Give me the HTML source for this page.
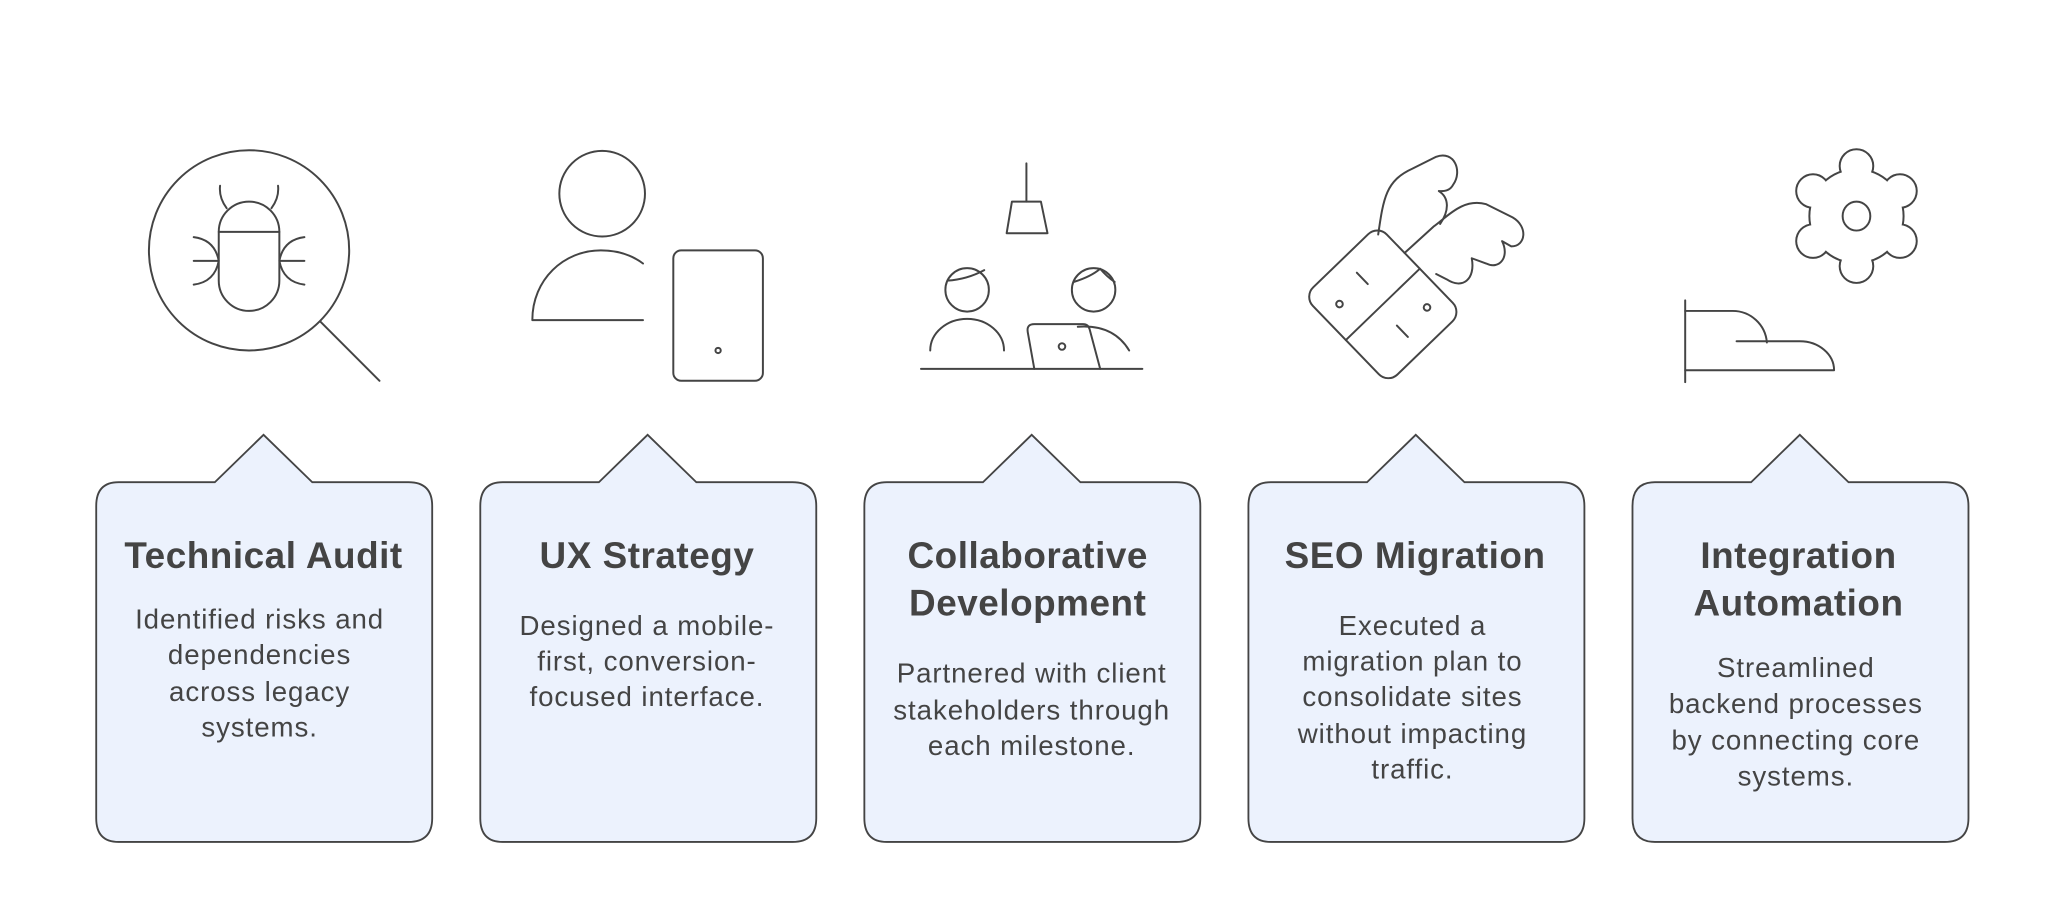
<!DOCTYPE html>
<html><head><meta charset="utf-8"><style>
html,body{margin:0;padding:0;background:#fff;}
svg{display:block;}
text{font-family:"Liberation Sans",sans-serif;fill:#444;text-anchor:middle;}
.t{font-size:28px;font-weight:bold;letter-spacing:0.4px;}
.b{font-size:21px;letter-spacing:0.7px;}
.s{fill:none;stroke:#444;stroke-width:1.5;stroke-linecap:round;stroke-linejoin:round;}
.c{fill:#ECF2FD;stroke:#444;stroke-width:1.4;}
</style></head><body>
<svg width="2066" height="902" viewBox="0 0 1568 684.6" xmlns="http://www.w3.org/2000/svg">
<defs>
<path id="card" d="M90 366 H163 L200 330 L237 366 H310 Q328 366 328 384 V621 Q328 639 310 639 H90 Q73 639 73 621 V384 Q73 366 90 366 Z"/>
</defs>
<use href="#card" class="c"/>
<use href="#card" class="c" x="291.5"/>
<use href="#card" class="c" x="583"/>
<use href="#card" class="c" x="874.5"/>
<use href="#card" class="c" x="1166"/>

<text class="t" x="200" y="431">Technical Audit</text>
<text class="b" x="197" y="477">Identified risks and</text>
<text class="b" x="197" y="504">dependencies</text>
<text class="b" x="197" y="532">across legacy</text>
<text class="b" x="197" y="559">systems.</text>

<text class="t" x="491" y="431">UX Strategy</text>
<text class="b" x="491" y="482">Designed a mobile-</text>
<text class="b" x="491" y="509">first, conversion-</text>
<text class="b" x="491" y="536">focused interface.</text>

<text class="t" x="780" y="431">Collaborative</text>
<text class="t" x="780" y="467">Development</text>
<text class="b" x="783" y="518">Partnered with client</text>
<text class="b" x="783" y="546">stakeholders through</text>
<text class="b" x="783" y="573">each milestone.</text>

<text class="t" x="1074" y="431">SEO Migration</text>
<text class="b" x="1072" y="482">Executed a</text>
<text class="b" x="1072" y="509">migration plan to</text>
<text class="b" x="1072" y="536">consolidate sites</text>
<text class="b" x="1072" y="564">without impacting</text>
<text class="b" x="1072" y="591">traffic.</text>

<text class="t" x="1365" y="431">Integration</text>
<text class="t" x="1365" y="467">Automation</text>
<text class="b" x="1363" y="514">Streamlined</text>
<text class="b" x="1363" y="541">backend processes</text>
<text class="b" x="1363" y="569">by connecting core</text>
<text class="b" x="1363" y="596">systems.</text>

<!-- icon 1 -->
<g class="s">
<circle cx="189" cy="190" r="76"/>
<line x1="243" y1="244" x2="288" y2="289"/>
<path d="M166 176 V213 A23 23 0 0 0 212 213 V176 A23 23 0 0 0 166 176 Z"/>
<line x1="166" y1="176" x2="212" y2="176"/>
<path d="M172 158 Q166 150 167 141 M206 158 Q212 150 211 141"/>
<path d="M147 180 Q163 182 166 198 Q163 214 147 216 M147 198 H166"/>
<path d="M231 180 Q215 182 212 198 Q215 214 231 216 M231 198 H212"/>
</g>
<!-- icon 2 -->
<g class="s">
<circle cx="457" cy="147" r="32.5"/>
<path d="M488 243 H404 C404 212 428 190 456 190 C470 190 480 194 488 200"/>
<rect x="511" y="190" width="68" height="99" rx="6"/>
<circle cx="545" cy="266" r="2"/>
</g>
<!-- icon 3 -->
<g class="s">
<line x1="779" y1="124" x2="779" y2="153"/>
<path d="M768 153 H790 L795 177 H764 Z"/>
<circle cx="734" cy="220" r="16.5"/>
<path d="M719 213 Q734 212 747 205"/>
<circle cx="830" cy="220" r="16.5"/>
<path d="M815 214 Q828 210 835 204 Q840 210 846 214"/>
<path d="M706 266 A28 24 0 0 1 762 266"/>
<path d="M818 248 Q845 246 857 266"/>
<path d="M785 280 L780 252 Q779 246 785 246 H822 Q826 246 827 250 L835 280"/>
<circle cx="806" cy="263" r="2.5"/>
<line x1="699" y1="280" x2="867" y2="280"/>
</g>
<!-- icon 4 -->
<g class="s">
<g transform="rotate(-44 1049.5 231)">
<rect x="1010.5" y="185" width="78" height="92" rx="10"/>
<line x1="1010.5" y1="231" x2="1088.5" y2="231"/>
<circle cx="1026" cy="208" r="2.5"/>
<circle cx="1072" cy="256" r="2.5"/>
<line x1="1052" y1="200" x2="1052" y2="212"/>
<line x1="1046" y1="250" x2="1046" y2="262"/>
</g>
<path d="M1046 178 C1050 150 1052 137 1072 128 L1090 119 C1104 114 1110 130 1103 140 C1100 146 1094 145 1092 145 C1100 150 1100 160 1093 170"/>
<path d="M1066 192 L1088 172 C1098 165 1110 150 1128 155 L1148 165 C1160 172 1158 187 1147 187 L1140 183 C1146 195 1138 205 1128 200 L1117 196 C1120 212 1110 220 1098 212 L1090 208"/>
</g>
<!-- icon 5 -->
<g stroke="#444" stroke-width="3" fill="#fff">
<circle cx="1409" cy="164" r="35"/>
<circle cx="1409" cy="126" r="12"/>
<circle cx="1409" cy="202" r="12"/>
<circle cx="1376" cy="145" r="12"/>
<circle cx="1442" cy="145" r="12"/>
<circle cx="1376" cy="183" r="12"/>
<circle cx="1442" cy="183" r="12"/>
</g>
<g fill="#fff">
<circle cx="1409" cy="164" r="35"/>
<circle cx="1409" cy="126" r="12"/>
<circle cx="1409" cy="202" r="12"/>
<circle cx="1376" cy="145" r="12"/>
<circle cx="1442" cy="145" r="12"/>
<circle cx="1376" cy="183" r="12"/>
<circle cx="1442" cy="183" r="12"/>
</g>
<g class="s">
<ellipse cx="1409" cy="164" rx="10.5" ry="11"/>
<line x1="1279" y1="228" x2="1279" y2="290"/>
<path d="M1279 236 H1315 A26 26 0 0 1 1341 260"/>
<path d="M1318 259 H1366 A26 22 0 0 1 1392 281 H1279"/>
</g>
</svg>
</body></html>
